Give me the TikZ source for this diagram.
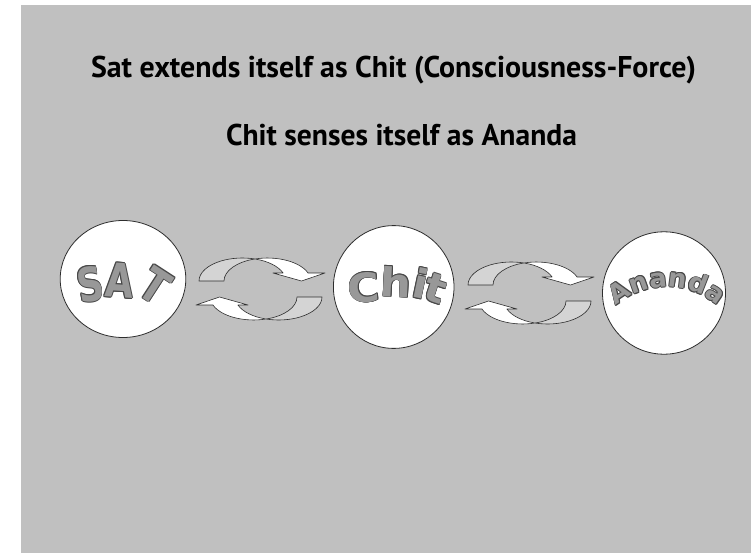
\documentclass[tikz,border=0pt]{standalone}
\usepackage{graphicx}
\usepackage{fontspec}
\setmainfont{PT Sans}
\newfontfamily\wafont{DejaVu Sans}
\usetikzlibrary{shapes.geometric}

\definecolor{bggray}{RGB}{192,192,192}
\definecolor{backfill}{RGB}{212,212,212}
\definecolor{edgecol}{RGB}{45,45,45}
\definecolor{wafill}{RGB}{152,152,152}
\definecolor{waline}{RGB}{72,72,72}

\tikzset{
  blob/.style={ellipse, draw=edgecol, line width=0.8pt, fill=white, inner sep=0pt},
  backpart/.style={fill=backfill, draw=edgecol, line width=0.6pt, line join=round},
  frontpart/.style={fill=white, draw=edgecol, line width=0.6pt, line join=round},
  titletext/.style={anchor=base west, inner sep=0pt, outer sep=0pt, text=black,
    font=\bfseries\fontsize{30pt}{30pt}\selectfont},
  waglyph/.style={anchor=base, inner sep=0pt, outer sep=0pt}
}

% one curved ribbon arrow (top arrow of the left pair, pixel coordinates)
\newcommand\ribbonarrow{%
  \filldraw[backpart] (199,281)
    arc[start angle=180, end angle=286.74, x radius=43.4, y radius=23]
    arc[start angle=253.26, end angle=180, x radius=43.4, y radius=23] -- cycle;
  \filldraw[frontpart] (254.9,259.0)
    arc[start angle=253.26, end angle=339.65, x radius=43.4, y radius=23]
    -- (325,273) -- (301.5,281) -- (273,273) -- (283.1,273)
    arc[start angle=339.65, end angle=286.74, x radius=43.4, y radius=23] -- cycle;
}

% outlined WordArt-like glyph: name, position, rotation, font size, glyph
\newcommand\waglyphat[5]{%
  \foreach \dx/\dy [count=\k] in {0.8/0,-0.8/0,0/0.8,0/-0.8,0.57/0.57,0.57/-0.57,-0.57/0.57,-0.57/-0.57}
    \node[waglyph, text=waline, xshift=\dx pt, yshift=\dy pt, rotate=#3,
      font=\wafont\bfseries\fontsize{#4}{#4}\selectfont] (#1-o\k) at (#2) {#5};
  \node[waglyph, text=wafill, rotate=#3,
    font=\wafont\bfseries\fontsize{#4}{#4}\selectfont] (#1) at (#2) {#5};
}

\begin{document}
\begin{tikzpicture}[x=1pt, y=-1pt]
  \useasboundingbox (0,0) rectangle (751,553);
  \fill[white] (0,0) rectangle (751,553);
  \fill[bggray] (21,5) rectangle (751,553);

  % titles
  \node[titletext] (title1) at (91,78)
    {\resizebox{605pt}{\height}{Sat extends itself as Chit (Consciousness-Force)}};
  \node[titletext] (title2) at (226,146)
    {\resizebox{351pt}{\height}{Chit senses itself as Ananda}};

  % circles
  \node[blob, minimum width=125.6pt, minimum height=117pt] (sat) at (123,279) {};
  \node[blob, minimum width=120.6pt, minimum height=122.8pt] (chit) at (393.7,287) {};
  \node[blob, minimum width=123pt, minimum height=122.4pt] (ananda) at (664,293) {};

  % arrows between SAT and Chit
  \begin{scope}
    \ribbonarrow
  \end{scope}
  \begin{scope}[rotate around={180:(260.5,289)}]
    \ribbonarrow
  \end{scope}
  % arrows between Chit and Ananda
  \begin{scope}[shift={(269,4)}]
    \ribbonarrow
  \end{scope}
  \begin{scope}[shift={(269,4)}, rotate around={180:(260.5,289)}]
    \ribbonarrow
  \end{scope}

  % SAT
  \waglyphat{satS}{93,301}{10}{47pt}{\scalebox{0.78}[1]{S}}
  \waglyphat{satA}{118.5,297.5}{-4}{47pt}{\scalebox{0.78}[1]{A}}
  \waglyphat{satT}{146,300}{-33}{47pt}{\scalebox{0.78}[1]{T}}

  % Chit
  \waglyphat{chC}{365,302}{4}{40pt}{\scalebox{1.1}[1]{C}}
  \waglyphat{chh}{395.5,297}{-3}{40pt}{\scalebox{1.1}[1]{h}}
  \waglyphat{chi}{417.5,298}{-12}{40pt}{\scalebox{1.1}[1]{i}}
  \waglyphat{cht}{431,302}{-18}{40pt}{\scalebox{1.1}[1]{t}}

  % Ananda
  \waglyphat{anA}{624.3,299.9}{33.7}{26pt}{A}
  \waglyphat{ann}{641.4,291.4}{19.4}{26pt}{n}
  \waglyphat{ana}{659.0,287.4}{6}{26pt}{a}
  \waglyphat{ann2}{676.9,287.6}{-7.4}{26pt}{n}
  \waglyphat{and}{695.0,292.3}{-21.3}{26pt}{d}
  \waglyphat{ana2}{710.8,300.7}{-34.7}{26pt}{a}
\end{tikzpicture}
\end{document}
